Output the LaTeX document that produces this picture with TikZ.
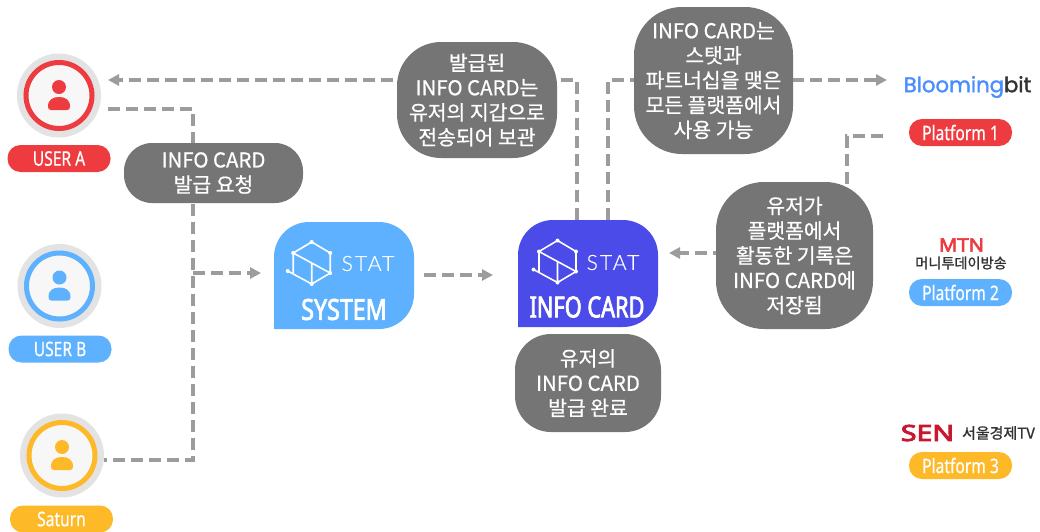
\documentclass[tikz,border=0pt]{standalone}
\usepackage{fontspec}
\setmainfont{Noto Sans CJK KR}
\newfontfamily\bubblefont[FakeBold=0.7]{Noto Sans CJK KR}
\newfontfamily\narrowfont[FakeStretch=0.78,FakeBold=0.6]{Noto Sans}
\newfontfamily\systemfont[FakeStretch=0.8,FakeBold=2.5]{Noto Sans}
\newfontfamily\cardfont[FakeStretch=0.75,FakeBold=2.5]{Noto Sans}
\newfontfamily\logofont[LetterSpace=10,FakeBold=0.5]{Lato Light}
\newfontfamily\brandfont[FakeBold=1.5]{Poppins}
\newfontfamily\senfont[FakeStretch=1.3,FakeBold=4.5]{Noto Sans}
\newfontfamily\mtnfont[FakeStretch=1.1,FakeBold=3.5]{Noto Sans}
\newfontfamily\krlogofont[FakeBold=1.4]{Noto Sans CJK KR}
\usetikzlibrary{arrows.meta}
\definecolor{cred}{HTML}{EE3B3F}
\definecolor{cblue}{HTML}{5DB1FE}
\definecolor{cyellow}{HTML}{FDB927}
\definecolor{cindigo}{HTML}{4A4BE8}
\definecolor{cgray}{HTML}{757575}
\definecolor{cline}{HTML}{9C9C9C}
\definecolor{cring}{HTML}{E3E3E3}
\definecolor{cdark}{HTML}{333333}
\definecolor{csen}{HTML}{C8172F}
\tikzset{
  flow/.style={draw=cline,line width=3.5pt,dash pattern=on 12pt off 6pt},
  flowtip/.style={flow,-{Triangle[length=11pt,width=11pt,fill=cline]}},
  bubble/.style={fill=cgray,text=white,align=center,inner sep=0pt,
    font=\bubblefont\fontsize{20.4}{24.8}\selectfont},
  pill/.style={fill=#1,text=white,rounded corners=13pt,minimum width=103pt,
    minimum height=27pt,inner sep=0pt,font=\narrowfont\fontsize{20}{22}\selectfont},
  halo/.style={circle,fill=cring,minimum size=84pt,inner sep=0pt},
  ring/.style={circle,fill=white!97!black,draw=#1,line width=5pt,minimum size=66pt,inner sep=0pt},
  cardtitle/.style={text=white,inner sep=0pt},
  statlabel/.style={text=white,inner sep=0pt,font=\logofont\fontsize{21}{22}\selectfont},
  logoline/.style={draw=white,line width=1.6pt,line join=round},
}
% person icon: #1 centre, #2 colour
\newcommand{\personicon}[2]{%
  \begin{scope}[shift={#1}]
    \fill[#2] (0,-8.5) circle[radius=7];
    \fill[#2] (-11,11) .. controls (-11,4) and (-6,1.5) .. (0,1.5)
      .. controls (6,1.5) and (11,4) .. (11,11)
      .. controls (11,13.5) and (10,14.5) .. (8,14.5) -- (-8,14.5)
      .. controls (-10,14.5) and (-11,13.5) .. (-11,11) -- cycle;
  \end{scope}}
% cube logo: #1 reference point (top vertex)
\newcommand{\cubelogo}[1]{%
  \begin{scope}[shift={#1}]
    \draw[logoline] (-18.5,11) -- (0,0) -- (18.5,11) -- (18.5,31) -- (0,42) -- (-24,29)
      (-18.5,11) -- (-18.5,31)
      (-18.5,11) -- (0,21) -- (18.5,31)
      (0,21) -- (0,42);
    \foreach \p in {(0,0),(18.5,11),(18.5,31),(0,42),(-18.5,11),(-24,29)}
      \fill[white] \p circle[radius=2];
  \end{scope}}
\begin{document}
\begin{tikzpicture}[x=1pt,y=-1pt]
\useasboundingbox (0,0) rectangle (1040,531);
\fill[white] (0,0) rectangle (1040,531);

% users
\node[halo] (usera) at (59,95.5) {};
\node[ring=cred] at (usera) {};
\personicon{(59,95.5)}{cred}
\node[pill=cred] (labela) at (59,158.5) {USER A};
\node[halo] (userb) at (59.5,286) {};
\node[ring=cblue] at (userb) {};
\personicon{(59.5,286)}{cblue}
\node[pill=cblue] (labelb) at (60,349) {USER B};
\node[halo] (userc) at (62,455.5) {};
\node[ring=cyellow] at (userc) {};
\personicon{(62,455.5)}{cyellow}
\node[pill=cyellow] (labelc) at (61.5,519) {Saturn};

% connector points
\coordinate (aout) at (108,109);
\coordinate (atop) at (193,109);
\coordinate (abot) at (193,460);
\coordinate (cout) at (104,460);
\coordinate (amid) at (193,273);
\coordinate (sysin) at (261,273);
\coordinate (sysout) at (424,275);
\coordinate (cardin) at (493,275);
\coordinate (cardupl) at (577,220);
\coordinate (cardupr) at (608,220);
\coordinate (cornl) at (577,80);
\coordinate (cornr) at (608,80);
\coordinate (aarrow) at (108,80);
\coordinate (bloom) at (887,80);
\coordinate (plat) at (883,136);
\coordinate (platc) at (847,136);
\coordinate (platd) at (847,190);
\coordinate (noteout) at (725,253);
\coordinate (cardarrow) at (669,253);

\draw[flow] (aout) -- (atop) -- (abot) -- (cout);
\draw[flowtip] (amid) -- (sysin);
\draw[flowtip] (sysout) -- (cardin);
\draw[flowtip] (cardupl) -- (cornl) -- (aarrow);
\draw[flowtip] (cardupr) -- (cornr) -- (bloom);
\draw[flow] (plat) -- (platc) -- (platd);
\draw[flowtip] (noteout) -- (cardarrow);

% cards
\fill[cblue,rounded corners=35pt] (274,329) -- (274,222) -- (414,222) -- (414,329) -- (310,329) [sharp corners] -- (274,329) -- cycle;
\fill[cindigo,rounded corners=35pt] (518,327) -- (518,220) -- (658,220) -- (658,327) -- (554,327) [sharp corners] -- (518,327) -- cycle;
\cubelogo{(311.7,242)}
\cubelogo{(557.5,240.5)}
\node[statlabel] (stata) at (368,263.5) {STAT};
\node[statlabel] (statb) at (613,262.5) {STAT};
\node[cardtitle,font=\systemfont\fontsize{29}{31}\selectfont] (systitle) at (344,309.5) {SYSTEM};
\node[cardtitle,font=\cardfont\fontsize{29}{31}\selectfont] (cardtitle) at (587,307) {INFO CARD};

% bubbles
\node[bubble,rounded corners=28pt,minimum width=179pt,minimum height=60pt] (req) at (213.5,173) {INFO CARD\\발급 요청};
\node[bubble,rounded corners=44pt,minimum width=160pt,minimum height=116pt] (stored) at (477,100) {발급된\\INFO CARD는\\유저의 지갑으로\\전송되어 보관};
\node[bubble,rounded corners=48pt,minimum width=159pt,minimum height=147pt] (usable) at (713.5,80.5) {INFO CARD는\\스탯과\\파트너십을 맺은\\모든 플랫폼에서\\사용 가능};
\node[bubble,rounded corners=48pt,minimum width=157pt,minimum height=147pt] (saved) at (794.5,255.5) {유저가\\플랫폼에서\\활동한 기록은\\INFO CARD에\\저장됨};
\node[bubble,rounded corners=36pt,minimum width=146pt,minimum height=98pt] (done) at (588,383) {유저의\\INFO CARD\\발급 완료};

% platforms
\node[inner sep=0pt,font=\brandfont\fontsize{21.2}{24}\selectfont] (bb) at (967.5,87) {\textcolor{cblue!80!blue}{Blooming}\textcolor{cdark}{bit}};
\node[pill=cred] (p1) at (960.5,132.5) {Platform 1};
\node[inner sep=0pt,text=cred,font=\mtnfont\fontsize{18.5}{20}\selectfont] (mtn) at (961.5,245) {MTN};
\node[inner sep=0pt,text=cdark,font=\krlogofont\fontsize{14.2}{15}\selectfont] (mt) at (961,263) {머니투데이방송};
\node[pill=cblue] (p2) at (960.5,292.5) {Platform 2};
\node[inner sep=0pt,text=csen,font=\senfont\fontsize{22}{24}\selectfont] (sen) at (927.5,433) {SEN};
\node[inner sep=0pt,text=cdark,font=\krlogofont\fontsize{15}{16}\selectfont] (seoul) at (998.5,433) {서울경제TV};
\node[pill=cyellow] (p3) at (960.5,465.5) {Platform 3};
\end{tikzpicture}
\end{document}
